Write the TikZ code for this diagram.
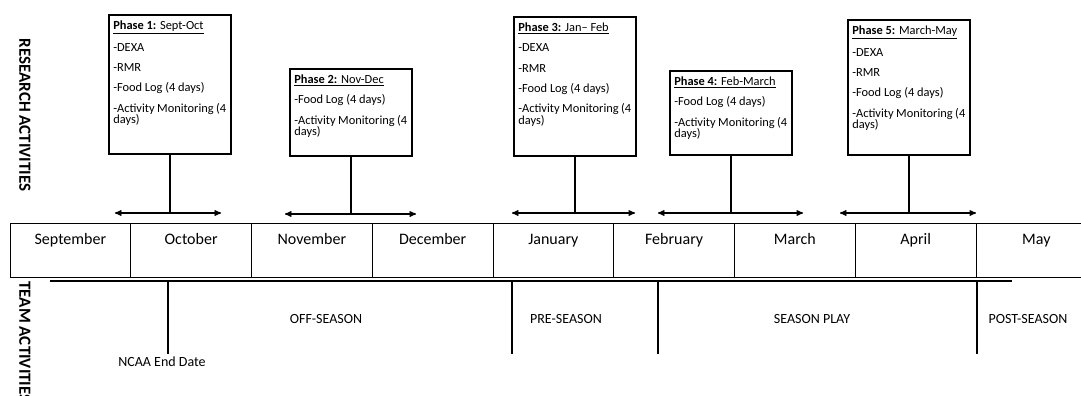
\documentclass[tikz,border=0pt]{standalone}
\usepackage{fontspec}
\setmainfont{Carlito}
\usetikzlibrary{arrows,positioning}
\newcommand{\phasebody}[2]{\parbox[t][#1][t]{113pt}{\raggedright\vspace*{1pt}#2}}
\tikzset{
    %Define standard arrow tip
    >=stealth',
    %Define style for phase boxes
    phase/.style={
           draw=black,
           line width=1.6pt,
           anchor=north west,
           inner xsep=4.5pt,
           inner ysep=5pt,
           font=\fontsize{12.4}{11.5}\selectfont},
    month/.style={
           draw=black,
           line width=0.9pt,
           minimum width=120.75pt,
           minimum height=54pt,
           inner ysep=6pt,
           text height=15pt,
           text depth=27pt,
           font=\fontsize{16}{18}\selectfont},
    team/.style={font=\fontsize{14}{16}\selectfont},
    side/.style={rotate=-90, font=\fontsize{17}{18}\selectfont\bfseries},
    % Define arrow style
    span/.style={<->, line width=1.3pt},
    stem/.style={line width=1.4pt}
}
\begin{document}
\begin{tikzpicture}[x=1pt,y=-1pt]
\useasboundingbox (0,0) rectangle (1081,396);

% side titles
\node[side] (research) at (25,115) {RESEARCH ACTIVITIES};
\node[side] (teamact) at (25,342) {TEAM ACTIVITIES};

% months
\foreach \m [count=\i] in {September,October,November,December,January,February,March,April,May}
    \node[month] (m\i) at ({10+(\i-0.5)*120.75},250) {\m};

% phase boxes
\node[phase] (p1) at (108,14) {\phasebody{129pt}{\underline{\textbf{Phase 1:} Sept-Oct}\\[8.8pt]
-DEXA\\[8.8pt] -RMR\\[8.8pt] -Food Log (4 days)\\[8.8pt] -Activity Monitoring (4\newline days)}};
\node[phase] (p2) at (289,68) {\phasebody{77pt}{\underline{\textbf{Phase 2:} Nov-Dec}\\[8.8pt]
-Food Log (4 days)\\[8.8pt] -Activity Monitoring (4\newline days)}};
\node[phase] (p3) at (513,16) {\phasebody{129pt}{\underline{\textbf{Phase 3:} Jan-- Feb}\\[8.8pt]
-DEXA\\[8.8pt] -RMR\\[8.8pt] -Food Log (4 days)\\[8.8pt] -Activity Monitoring (4\newline days)}};
\node[phase] (p4) at (669,70) {\phasebody{74pt}{\underline{\textbf{Phase 4:} Feb-March}\\[8.8pt]
-Food Log (4 days)\\[8.8pt] -Activity Monitoring (4\newline days)}};
\node[phase] (p5) at (847,19) {\phasebody{125pt}{\underline{\textbf{Phase 5:} March-May}\\[8.8pt]
-DEXA\\[8.8pt] -RMR\\[8.8pt] -Food Log (4 days)\\[8.8pt] -Activity Monitoring (4\newline days)}};

% phase spans
\coordinate (a1l) at (115,213);  \coordinate (a1r) at (221,213);
\coordinate (a2l) at (285,214);  \coordinate (a2r) at (416,214);
\coordinate (a3l) at (512,213);  \coordinate (a3r) at (635,213);
\coordinate (a4l) at (658,213);  \coordinate (a4r) at (803,213);
\coordinate (a5l) at (840,213);  \coordinate (a5r) at (976,213);
\foreach \i in {1,...,5}{
    \draw[span] (a\i l) -- (a\i r);
    \draw[stem] (p\i.south) -- (p\i.south |- a\i l);
}

% team activities
\coordinate (tl) at (50,281);
\coordinate (tr) at (1012,281);
\draw[line width=1.6pt] (tl) -- (tr);
\node[team] (ncaa) at (162,362) {NCAA End Date};
\node[team] (off) at (326,319) {OFF-SEASON};
\node[team] (pre) at (566,319) {PRE-SEASON};
\node[team] (play) at (812,319) {SEASON PLAY};
\node[team] (post) at (1028,319) {POST-SEASON};
\coordinate (t1) at (168,281);
\coordinate (t2) at (512,281);  \coordinate (b2) at (512,354);
\coordinate (t3) at (658,281);  \coordinate (b3) at (658,354);
\coordinate (t4) at (977,281);  \coordinate (b4) at (977,354);
\draw[stem] (t1) -- (t1 |- ncaa.north);
\foreach \i in {2,3,4}
    \draw[stem] (t\i) -- (b\i);
\end{tikzpicture}
\end{document}
